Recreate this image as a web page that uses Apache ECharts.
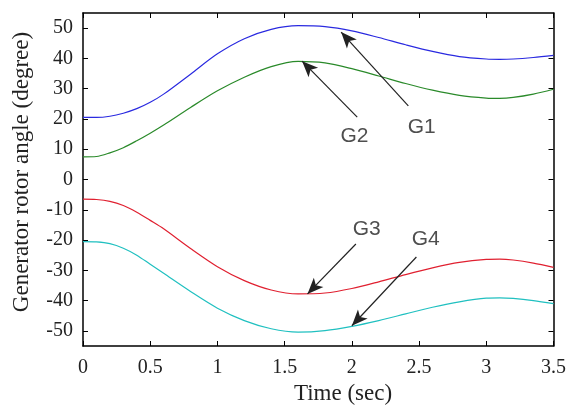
<!DOCTYPE html>
<html><head><meta charset="utf-8">
<script src="https://cdn.jsdelivr.net/npm/echarts@6/dist/echarts.min.js"></script>
<style>html,body{margin:0;padding:0;background:#fff}#c{width:569px;height:414px}</style>
</head><body><div id="c"></div>
<script>
const time = [0,0.1,0.2,0.3,0.4,0.5,0.6,0.8,1.0,1.2,1.4,1.6,1.8,2.0,2.2,2.4,2.6,2.8,3.0,3.1,3.2,3.35,3.5];
const g1 = [20.5,20.5,20.9,21.9,23.4,25.5,28.2,34.8,41.5,46.5,49.6,50.8,50.5,49.1,46.9,44.5,42.3,40.6,39.8,39.7,39.8,40.3,41];
const g2 = [7.5,7.6,8.8,10.5,12.8,15.3,18,23.8,29.3,33.8,37.3,39,38.5,36.6,34.2,31.7,29.5,27.8,26.9,26.8,27.1,28.2,29.8];
const g3 = [-6.5,-6.6,-7.2,-8.6,-10.8,-13.5,-16.3,-22.8,-28.8,-33.4,-36.5,-37.8,-37.5,-36,-33.8,-31.4,-29.2,-27.4,-26.4,-26.3,-26.6,-27.6,-29];
const g4 = [-20.5,-20.6,-21.2,-22.7,-25,-28,-31,-37,-42.5,-46.6,-49.3,-50.4,-49.9,-48.5,-46.6,-44.4,-42.2,-40.4,-39.2,-39.1,-39.3,-40,-41];
const xTicks = [0,0.5,1,1.5,2,2.5,3,3.5];
const yTicks = [-50,-40,-30,-20,-10,0,10,20,30,40,50];
const names = ['G1','G2','G3','G4'];
const colors = ['#2a2ae0','#2a8a2a','#e02030','#20c0c0'];
// annotation: [labelT,labelV, tailT,tailV, tipT,tipV]
const notes = {
  G1:[2.52,17.3, 2.42,24.3, 1.92,48.7],
  G2:[2.02,14.2, 2.04,20.6, 1.63,39.1],
  G3:[2.11,-16.3, 2.03,-21.3, 1.67,-37.8],
  G4:[2.55,-19.6, 2.48,-25.6, 2.0,-48.3]
};
const serif = 'Liberation Serif';
const chart = echarts.init(document.getElementById('c'));
const series = [g1,g2,g3,g4].map((d,i)=>({
  type:'line', name:names[i], data:time.map((t,j)=>[t,d[j]]),
  smooth:0.3, showSymbol:false, lineStyle:{color:colors[i],width:1.2}, z:3
}));
series.push({
  type:'scatter', symbolSize:0, silent:true,
  data:names.map(n=>({value:[notes[n][0],notes[n][1]], name:n})),
  label:{show:true, formatter:'{b}', position:'inside', fontFamily:'Liberation Sans', fontSize:21, color:'#222'},
  markLine:{
    silent:true, symbol:['none','arrow'], symbolSize:[10,16],
    lineStyle:{color:'#222', width:1.2, type:'solid'}, label:{show:false},
    data:names.map(n=>[{coord:[notes[n][2],notes[n][3]]},{coord:[notes[n][4],notes[n][5]]}])
  }
});
const axLine = {show:true,onZero:false,lineStyle:{color:'#000',width:1.5}};
const tick = v=>({show:true,inside:true,length:5,customValues:v,lineStyle:{color:'#000'}});
chart.setOption({
  animation:false,
  grid:{left:83,right:14,top:13,bottom:68},
  xAxis:[
    {type:'value',min:0,max:3.5,interval:0.5,axisLine:axLine,axisTick:tick(xTicks),splitLine:{show:false},
      axisLabel:{fontFamily:serif,fontSize:20,color:'#222',margin:12,customValues:xTicks,formatter:v=>String(v)}},
    {type:'value',min:0,max:3.5,interval:0.5,position:'top',axisLine:axLine,axisTick:tick(xTicks),splitLine:{show:false},axisLabel:{show:false}}
  ],
  yAxis:[
    {type:'value',min:-55,max:55,axisLine:axLine,axisTick:tick(yTicks),splitLine:{show:false},
      axisLabel:{fontFamily:serif,fontSize:20,color:'#222',margin:10,customValues:yTicks}},
    {type:'value',min:-55,max:55,position:'right',axisLine:axLine,axisTick:tick(yTicks),splitLine:{show:false},axisLabel:{show:false}}
  ],
  graphic:[
    {type:'text',x:343,y:394,style:{text:'Time (sec)',font:'23px "Liberation Serif"',fill:'#222',align:'center',verticalAlign:'middle'}},
    {type:'text',rotation:Math.PI/2,x:22,y:172,style:{text:'Generator rotor angle (degree)',font:'23px "Liberation Serif"',fill:'#222',align:'center',verticalAlign:'middle'}}
  ],
  series:series
});
</script></body></html>
